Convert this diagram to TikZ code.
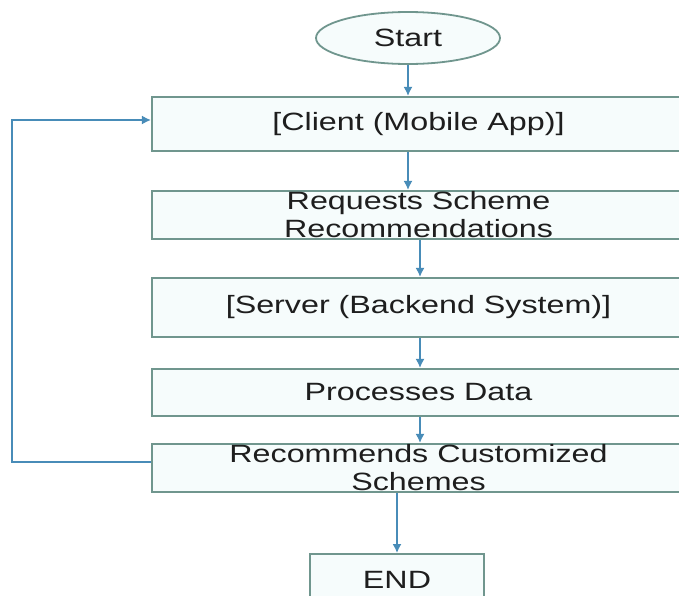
\documentclass[tikz,border=0pt]{standalone}
\usepackage{fontspec}
\setmainfont[FakeStretch=1.29]{Liberation Sans}
\usetikzlibrary{arrows.meta,shapes.geometric}

\definecolor{boxline}{RGB}{112,150,142}
\definecolor{boxfill}{RGB}{246,252,252}
\definecolor{flow}{RGB}{72,140,184}
\definecolor{ink}{RGB}{30,30,30}

\tikzset{
  stepbox/.style={draw=boxline, line width=2.2pt, fill=boxfill, rectangle,
    minimum width=533pt, inner sep=0pt, align=center, text=ink,
    font=\fontsize{25}{28}\selectfont},
  startshape/.style={draw=boxline, line width=1.8pt, fill=boxfill, ellipse,
    minimum width=184pt, minimum height=52pt, inner sep=0pt, text=ink,
    font=\fontsize{25}{28}\selectfont},
  arr/.style={draw=flow, line width=1.5pt, -{Latex[length=9pt,width=9pt]}},
}

\begin{document}
\begin{tikzpicture}[x=1pt,y=-1pt]
  \clip (0,0) rectangle (679,595);
  \fill[white] (0,0) rectangle (679,595);

  % terminals and process steps
  \node[startshape] (start) at (408,38) {Start};
  \node[stepbox, minimum height=54pt] (b1) at (418.5,124) {[Client (Mobile App)]};
  \node[stepbox, minimum height=48pt] (b2) at (418.5,215) {Requests Scheme\\Recommendations};
  \node[stepbox, minimum height=59pt] (b3) at (418.5,307.5) {[Server (Backend System)]};
  \node[stepbox, minimum height=47pt] (b4) at (418.5,392.5) {Processes Data};
  \node[stepbox, minimum height=48pt] (b5) at (418.5,468) {Recommends Customized\\Schemes};
  \node[stepbox, minimum width=174pt, minimum height=60pt, anchor=north] (end) at (397,553) {\raisebox{9pt}{END}};

  % helper columns for the connectors
  \coordinate (mid) at (420,0);
  \coordinate (fb) at (12,0);

  % main flow
  \draw[arr] (start.south) -- (start.south |- b1.north);
  \draw[arr] (b1.south -| start.south) -- (b2.north -| start.south);
  \draw[arr] (b2.south -| mid) -- (b3.north -| mid);
  \draw[arr] (b3.south -| mid) -- (b4.north -| mid);
  \draw[arr] (b4.south -| mid) -- (b5.north -| mid);
  \draw[arr] (b5.south -| end.north) -- (end.north);

  % loop back to the client
  \draw[arr] ([yshift=6pt]b5.west) -- ([yshift=6pt]b5.west -| fb) |- ([yshift=4pt]b1.west);
\end{tikzpicture}
\end{document}
